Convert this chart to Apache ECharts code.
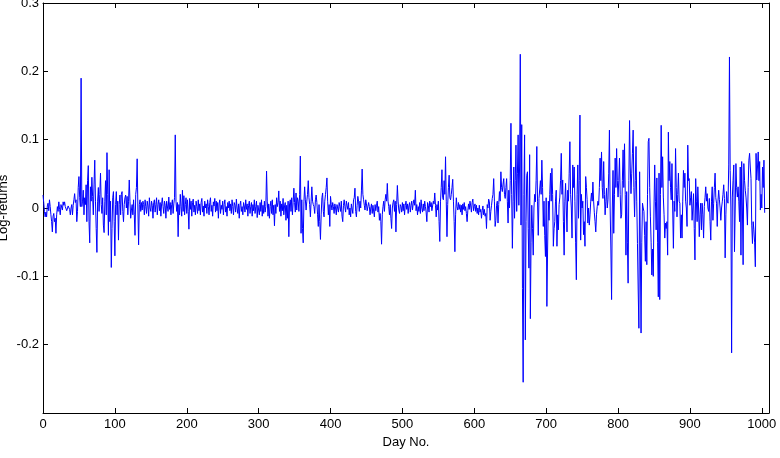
<!DOCTYPE html>
<html><head><meta charset="utf-8">
<script src="https://cdn.jsdelivr.net/npm/echarts@6/dist/echarts.min.js"></script>
<style>html,body{margin:0;padding:0;background:#fff}#c{width:780px;height:458px}</style>
</head><body><div id="c"></div>
<script>
// Daily log-returns, index = day number (0 .. 1004)
const logReturns = [
0.019, 0.008, -0.005, -0.013, -0.006, -0.013, 0.003, 0.007, -0.004, 0.012,
0.002, -0.010, -0.020, -0.035, -0.012, -0.008, -0.020, -0.015, -0.037, -0.010,
0.002, -0.005, 0.009, -0.002, -0.010, 0.005, 0.007, -0.003, 0.009, 0.004,
0.009, 0.002, 0.000, -0.004, -0.005, 0.003, 0.005, -0.002, -0.010, 0.000,
0.005, -0.010, 0.004, 0.012, 0.021, 0.008, 0.012, -0.020, -0.005, 0.030,
0.046, 0.015, 0.002, 0.190, 0.002, 0.010, 0.026, -0.010, 0.015, 0.005,
0.034, -0.020, 0.040, 0.062, -0.020, -0.051, 0.031, 0.010, 0.045, 0.017,
-0.010, 0.035, 0.070, 0.010, -0.030, -0.065, 0.010, 0.030, -0.005, 0.020,
0.051, 0.005, -0.008, 0.015, -0.025, -0.036, 0.010, 0.040, -0.010, 0.081,
0.020, -0.040, 0.056, -0.020, 0.010, -0.087, -0.030, 0.015, 0.024, -0.020,
-0.070, 0.005, 0.024, -0.010, 0.010, -0.047, 0.005, 0.019, -0.010, 0.020,
0.024, -0.005, -0.020, 0.005, 0.015, 0.019, 0.000, 0.017, -0.010, 0.010,
0.041, 0.010, -0.015, -0.003, 0.005, -0.010, 0.012, -0.010, -0.040, 0.020,
0.030, 0.072, 0.000, -0.054, 0.005, 0.012, -0.005, 0.008, -0.003, 0.010,
0.005, -0.010, 0.012, 0.002, -0.008, 0.010, 0.003, -0.012, 0.015, 0.000,
-0.005, 0.010, 0.004, -0.015, 0.008, 0.012, -0.006, 0.005, 0.015, -0.010,
0.005, 0.012, -0.004, 0.008, -0.012, 0.006, 0.015, 0.002, -0.008, 0.010,
0.004, -0.015, 0.010, 0.012, -0.005, 0.016, -0.002, 0.008, -0.010, 0.005,
0.012, -0.008, 0.006, 0.015, 0.107, 0.010, -0.005, 0.008, -0.042, 0.005,
-0.010, 0.020, 0.002, -0.012, 0.026, -0.005, 0.018, -0.010, 0.005, 0.015,
-0.008, 0.012, -0.005, -0.031, 0.014, -0.002, 0.010, -0.012, 0.008, 0.013,
-0.006, 0.004, -0.010, 0.010, 0.002, -0.008, 0.012, -0.004, 0.006, -0.010,
0.008, 0.014, -0.006, 0.003, -0.012, 0.010, 0.000, 0.006, -0.008, 0.012,
0.002, -0.010, 0.008, 0.015, -0.005, 0.004, -0.012, 0.009, 0.003, 0.014,
-0.006, 0.010, -0.004, 0.008, -0.015, 0.006, 0.012, -0.008, 0.004, -0.002,
0.010, -0.010, 0.005, 0.012, -0.006, 0.002, -0.012, 0.008, 0.000, 0.010,
-0.004, 0.006, -0.008, 0.012, 0.002, -0.010, 0.008, 0.004, -0.006, 0.013,
0.000, -0.008, 0.006, -0.015, 0.004, 0.010, -0.005, 0.002, -0.010, 0.008,
0.003, -0.006, 0.012, -0.002, 0.006, -0.012, 0.004, 0.010, -0.008, 0.002,
0.008, -0.012, 0.005, -0.004, 0.012, -0.008, 0.002, 0.010, -0.014, 0.004,
0.006, -0.010, 0.008, -0.005, 0.012, -0.012, 0.004, -0.008, 0.010, -0.006,
0.002, 0.054, 0.010, -0.012, 0.006, -0.015, 0.002, 0.010, -0.008, 0.012,
-0.010, 0.004, -0.026, 0.005, -0.008, 0.015, 0.002, 0.008, 0.025, -0.005,
0.010, -0.012, 0.006, -0.004, 0.014, -0.010, 0.003, 0.008, -0.018, 0.004,
-0.015, 0.010, -0.042, 0.006, 0.012, -0.005, 0.015, -0.010, 0.008, 0.029,
0.008, -0.006, 0.022, -0.003, 0.015, 0.010, -0.005, 0.020, 0.076, -0.037,
0.012, -0.030, -0.051, 0.010, 0.031, 0.012, -0.003, 0.010, 0.020, 0.040,
0.015, 0.005, -0.013, 0.010, 0.031, 0.010, 0.005, 0.002, -0.008, 0.012,
0.019, 0.008, -0.010, -0.027, 0.005, -0.020, -0.046, -0.010, 0.015, 0.022,
-0.005, -0.013, 0.010, 0.020, 0.030, 0.044, 0.010, -0.010, 0.005, -0.027,
0.017, 0.005, -0.003, 0.008, 0.002, -0.008, 0.006, 0.000, -0.010, 0.005,
0.004, -0.006, 0.008, 0.002, -0.005, 0.010, -0.012, -0.020, 0.004, 0.012,
0.002, -0.006, 0.010, 0.004, -0.002, 0.008, -0.010, 0.000, -0.013, 0.006,
0.005, -0.008, 0.012, 0.015, 0.029, -0.005, -0.013, 0.004, 0.017, 0.010,
-0.005, 0.010, 0.000, 0.025, 0.057, 0.020, 0.012, 0.004, -0.003, 0.012,
0.006, -0.004, -0.003, 0.008, 0.002, -0.010, 0.000, 0.006, -0.008, 0.004,
0.002, -0.013, 0.005, -0.004, 0.004, 0.010, -0.006, 0.002, -0.018, -0.008,
-0.020, -0.053, -0.010, 0.002, 0.010, -0.005, 0.012, 0.020, 0.010, 0.036,
0.010, 0.002, -0.010, 0.005, -0.015, -0.030, 0.000, 0.008, 0.012, -0.005,
0.010, -0.035, 0.005, 0.033, 0.010, -0.003, -0.008, 0.005, 0.002, -0.006,
0.008, -0.004, 0.006, -0.010, 0.004, 0.010, -0.002, 0.006, -0.008, 0.003,
0.008, -0.006, 0.004, 0.010, -0.003, 0.006, 0.012, 0.004, 0.026, -0.004,
0.005, -0.010, 0.002, -0.005, 0.008, -0.008, 0.012, 0.000, -0.006, 0.006,
-0.004, 0.010, 0.002, -0.006, -0.020, 0.008, 0.004, -0.006, 0.010, 0.002,
0.008, -0.004, -0.002, 0.010, 0.006, 0.022, 0.004, -0.013, 0.005, -0.003,
0.010, -0.020, -0.049, 0.010, 0.030, 0.056, 0.015, 0.012, 0.040, 0.020,
0.075, 0.010, -0.042, 0.005, 0.030, 0.048, 0.015, 0.012, 0.020, 0.030,
0.042, 0.010, -0.020, -0.064, -0.010, 0.015, 0.002, -0.003, 0.008, -0.002,
0.005, -0.006, 0.004, -0.010, 0.006, -0.002, 0.008, -0.004, 0.002, -0.008,
-0.020, -0.004, 0.006, -0.002, 0.010, 0.003, -0.006, 0.008, 0.013, -0.004,
0.002, 0.006, -0.005, 0.004, -0.008, 0.000, -0.010, 0.004, -0.006, -0.002,
-0.015, -0.004, 0.003, -0.010, -0.002, -0.012, -0.008, -0.030, 0.005, 0.000,
0.013, 0.009, -0.018, -0.005, 0.004, 0.014, 0.020, 0.043, 0.010, -0.027,
-0.018, 0.004, 0.010, -0.022, 0.005, 0.024, 0.010, 0.053, 0.030, 0.024,
0.035, 0.043, 0.020, 0.014, 0.030, 0.043, 0.010, -0.022, 0.026, 0.000,
0.040, 0.124, 0.020, -0.059, 0.010, 0.060, -0.015, 0.040, 0.092, -0.005,
0.050, 0.107, 0.004, 0.060, 0.225, -0.025, 0.122, -0.118, -0.255, 0.020,
0.107, -0.193, -0.020, 0.048, 0.053, -0.030, -0.088, 0.078, -0.162, -0.050,
0.004, -0.030, -0.069, 0.000, 0.020, 0.009, 0.040, 0.090, 0.009, -0.040,
0.014, 0.012, 0.040, 0.020, 0.070, 0.030, -0.027, 0.010, -0.040, -0.071,
0.015, -0.144, -0.060, 0.010, -0.018, 0.020, 0.051, 0.010, 0.058, 0.020,
-0.056, -0.030, -0.020, 0.010, 0.026, -0.056, -0.010, -0.032, 0.005, 0.016,
0.040, 0.080, 0.020, 0.041, -0.020, -0.069, 0.010, 0.036, 0.000, -0.035,
0.026, 0.010, 0.050, 0.097, 0.020, 0.000, -0.044, 0.063, 0.030, 0.060,
0.010, -0.050, -0.105, 0.020, 0.063, -0.015, 0.040, 0.136, -0.047, 0.020,
0.000, 0.010, -0.039, -0.020, -0.056, 0.046, 0.030, 0.012, -0.022, 0.000,
-0.025, -0.010, 0.010, 0.022, 0.010, 0.038, 0.010, -0.007, -0.020, -0.035,
-0.010, 0.002, 0.010, 0.004, 0.030, 0.073, 0.040, 0.082, 0.030, 0.014,
0.068, 0.020, -0.010, 0.010, 0.029, 0.000, 0.012, 0.050, 0.114, 0.000,
-0.060, -0.134, 0.000, 0.055, -0.037, 0.020, 0.073, 0.030, 0.087, 0.040,
0.016, 0.040, 0.073, 0.020, -0.015, -0.010, 0.040, 0.085, 0.030, 0.094,
0.020, -0.069, 0.024, -0.050, -0.110, 0.040, 0.128, 0.060, 0.021, 0.050,
0.080, 0.114, 0.030, -0.013, 0.040, 0.090, 0.010, -0.052, -0.120, -0.176,
0.053, -0.060, -0.183, -0.050, 0.007, 0.000, -0.005, -0.040, -0.078, -0.020,
-0.083, 0.020, 0.097, 0.102, 0.030, -0.013, -0.050, -0.098, -0.060, -0.100,
0.000, 0.063, 0.010, -0.032, 0.044, -0.050, -0.130, 0.051, -0.134, 0.020,
0.121, 0.030, 0.075, 0.016, -0.010, -0.044, -0.022, -0.030, -0.020, -0.069,
0.111, 0.040, 0.068, 0.030, 0.012, 0.065, 0.000, -0.059, 0.010, -0.005,
0.087, 0.030, -0.013, 0.020, 0.051, 0.010, 0.007, -0.044, -0.010, -0.044,
0.010, 0.055, 0.030, 0.051, 0.010, 0.000, -0.027, 0.092, 0.040, 0.043,
0.004, 0.015, 0.024, -0.018, 0.000, 0.021, -0.030, -0.076, 0.043, 0.010,
-0.020, 0.031, 0.000, -0.042, -0.010, 0.007, -0.032, 0.007, -0.010, -0.044,
0.002, 0.015, 0.031, 0.010, 0.021, 0.000, -0.005, 0.014, -0.020, -0.047,
0.010, 0.031, -0.018, 0.007, 0.030, 0.051, 0.015, 0.007, -0.027, 0.010,
0.026, 0.012, 0.000, -0.018, 0.000, 0.009, 0.020, 0.034, 0.014, -0.073,
-0.010, 0.024, 0.010, 0.007, 0.063, 0.221, 0.055, 0.000, -0.212, 0.016,
0.040, 0.063, -0.064, 0.000, 0.065, 0.030, 0.016, 0.031, 0.010, -0.020,
0.060, -0.069, 0.068, 0.000, -0.083, 0.065, 0.040, 0.026, 0.016, 0.000,
-0.025, 0.030, 0.070, 0.080, 0.060, 0.043, -0.025, -0.052, -0.020, -0.032,
-0.050, -0.086, 0.080, 0.041, 0.060, 0.082, 0.040, 0.068, -0.003, 0.020,
0.000, 0.060, 0.030, 0.070, -0.007
];
const xTickValues = [0, 100, 200, 300, 400, 500, 600, 700, 800, 900, 1000];
const yTickValues = [-0.3, -0.2, -0.1, 0, 0.1, 0.2, 0.3];
const xAxisTitle = 'Day No.';
const yAxisTitle = 'Log-returns';

const FONT = 'Liberation Sans, Arial, sans-serif';
const xMin = xTickValues[0], xMax = 1010, xStep = xTickValues[1] - xTickValues[0];
const yMin = yTickValues[0], yMax = yTickValues[yTickValues.length - 1], yStep = 0.1;

const lineCommon = { onZero: false, lineStyle: { color: '#000', width: 1 } };
const tickCommon = { inside: true, length: 5, lineStyle: { color: '#000', width: 1 } };

const chart = echarts.init(document.getElementById('c'), null, { renderer: 'canvas' });
chart.setOption({
  animation: false,
  backgroundColor: '#fff',
  grid: { left: 43, right: 11, top: 3, bottom: 45, containLabel: false, outerBoundsMode: 'none' },
  xAxis: [
    {
      type: 'value', min: xMin, max: xMax, interval: xStep, position: 'bottom',
      axisLine: lineCommon, axisTick: tickCommon, splitLine: { show: false },
      axisLabel: { color: '#000', fontSize: 13, fontFamily: FONT, margin: 5, showMaxLabel: false,
        formatter: v => String(v) },
      name: xAxisTitle, nameLocation: 'middle', nameGap: 22,
      nameTextStyle: { color: '#000', fontSize: 13, fontFamily: FONT }
    },
    {
      type: 'value', min: xMin, max: xMax, interval: xStep, position: 'top',
      axisLine: lineCommon, axisTick: tickCommon, splitLine: { show: false },
      axisLabel: { show: false }
    }
  ],
  yAxis: [
    {
      type: 'value', min: yMin, max: yMax, interval: yStep, position: 'left',
      axisLine: lineCommon, axisTick: tickCommon, splitLine: { show: false },
      axisLabel: {
        color: '#000', fontSize: 13, fontFamily: FONT, margin: 4, showMinLabel: false,
        formatter: v => Math.abs(v) < 1e-9 ? '0' : v.toFixed(1)
      },
      name: yAxisTitle, nameLocation: 'middle', nameGap: 33, nameMoveOverlap: false,
      nameTextStyle: { color: '#000', fontSize: 13, fontFamily: FONT }
    },
    {
      type: 'value', min: yMin, max: yMax, interval: yStep, position: 'right',
      axisLine: lineCommon, axisTick: tickCommon, splitLine: { show: false },
      axisLabel: { show: false }
    }
  ],
  series: [{
    type: 'line',
    xAxisIndex: 0, yAxisIndex: 0,
    data: logReturns.map((v, i) => [i, v]),
    showSymbol: false, symbol: 'none', silent: true,
    lineStyle: { color: '#0000ff', width: 1 },
    itemStyle: { color: '#0000ff' }
  }]
});
</script>
</body></html>
